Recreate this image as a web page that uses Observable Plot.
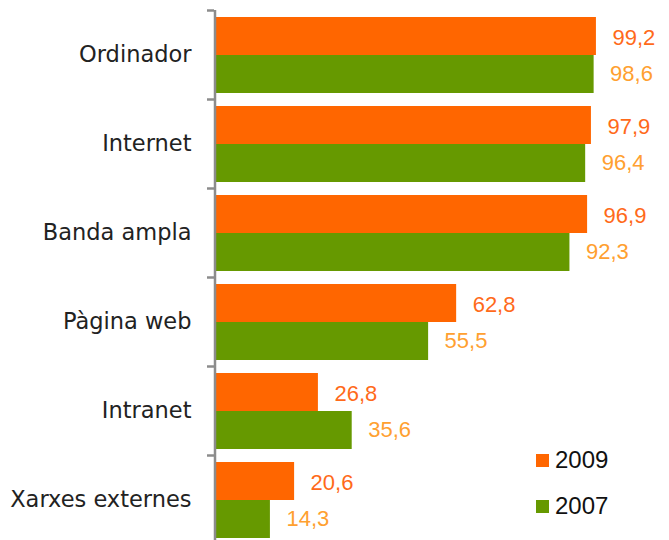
<!DOCTYPE html>
<html><head><meta charset="utf-8">
<script src="https://cdn.jsdelivr.net/npm/d3@7"></script>
<script src="https://cdn.jsdelivr.net/npm/@observablehq/plot@0.6"></script>
<style>
body{margin:0;background:#fff;}
#wrap{position:relative;width:669px;height:540px;overflow:hidden;font-family:"Liberation Sans",sans-serif;}
.leg{position:absolute;display:flex;align-items:center;font-size:24px;color:#111;line-height:24px;}
.leg span.sw{display:inline-block;width:13px;height:13px;margin-right:6px;}
</style></head>
<body><div id="wrap"></div>
<script>
const categories = ["Ordinador","Internet","Banda ampla","Pàgina web","Intranet","Xarxes externes"];
const years = ["2009","2007"];
const values2009 = [99.2, 97.9, 96.9, 62.8, 26.8, 20.6];
const values2007 = [98.6, 96.4, 92.3, 55.5, 35.6, 14.3];
const barColors = {"2009":"#FF6600","2007":"#669900"};
const labelColors = {"2009":"#FF6A1A","2007":"#FFA030"};

const data = [];
categories.forEach((c,i)=>{
  data.push({cat:c, year:"2009", value:values2009[i]});
  data.push({cat:c, year:"2007", value:values2007[i]});
});
const d09 = data.filter(d=>d.year==="2009");
const d07 = data.filter(d=>d.year==="2007");
const fmt = v => v.toFixed(1).replace(".", ",");
const catFont = "DejaVu Sans";
const numFont = "Liberation Sans";

const chart = Plot.plot({
  width: 669, height: 540,
  marginLeft: 215, marginRight: 0, marginTop: 10, marginBottom: 0,
  style: {fontFamily: catFont, background: "#fff"},
  x: {domain: [0, 100], range: [215, 599], axis: null},
  y: {domain: categories, range: [10, 544], padding: 0, axis: null},
  marks: [
    Plot.barX(d09, {y:"cat", x:"value", fill: barColors["2009"], insetTop: 7, insetBottom: 44}),
    Plot.barX(d07, {y:"cat", x:"value", fill: barColors["2007"], insetTop: 45, insetBottom: 6}),
    Plot.text(d09, {y:"cat", x:"value", text: d=>fmt(d.value), dx: 16, dy: -17, textAnchor:"start", fill: labelColors["2009"], fontSize: 22, fontFamily: numFont}),
    Plot.text(d07, {y:"cat", x:"value", text: d=>fmt(d.value), dx: 16, dy: 19, textAnchor:"start", fill: labelColors["2007"], fontSize: 22, fontFamily: numFont}),
    Plot.ruleX([0], {stroke:"#8c8c8c", strokeWidth: 2.5, dx: -0.5}),
    Plot.axisY({anchor:"left", tickSize: 7, tickFormat: null, label: null, dy: -44.5, stroke:"#8c8c8c", strokeWidth: 2.5, dx: -1}),
    Plot.axisY({anchor:"left", tickSize: 0, tickPadding: 24, fontSize: 22.5, fill:"#222", fontFamily: catFont, label: null})
  ]
});
const wrap = document.getElementById("wrap");
wrap.appendChild(chart);
const legPos = [{year:"2009", top:448},{year:"2007", top:494}];
legPos.forEach(p=>{
  const el = document.createElement("div");
  el.className = "leg";
  el.style.left = "536px"; el.style.top = p.top + "px";
  el.innerHTML = `<span class="sw" style="background:${barColors[p.year]}"></span>${p.year}`;
  wrap.appendChild(el);
});
</script></body></html>
